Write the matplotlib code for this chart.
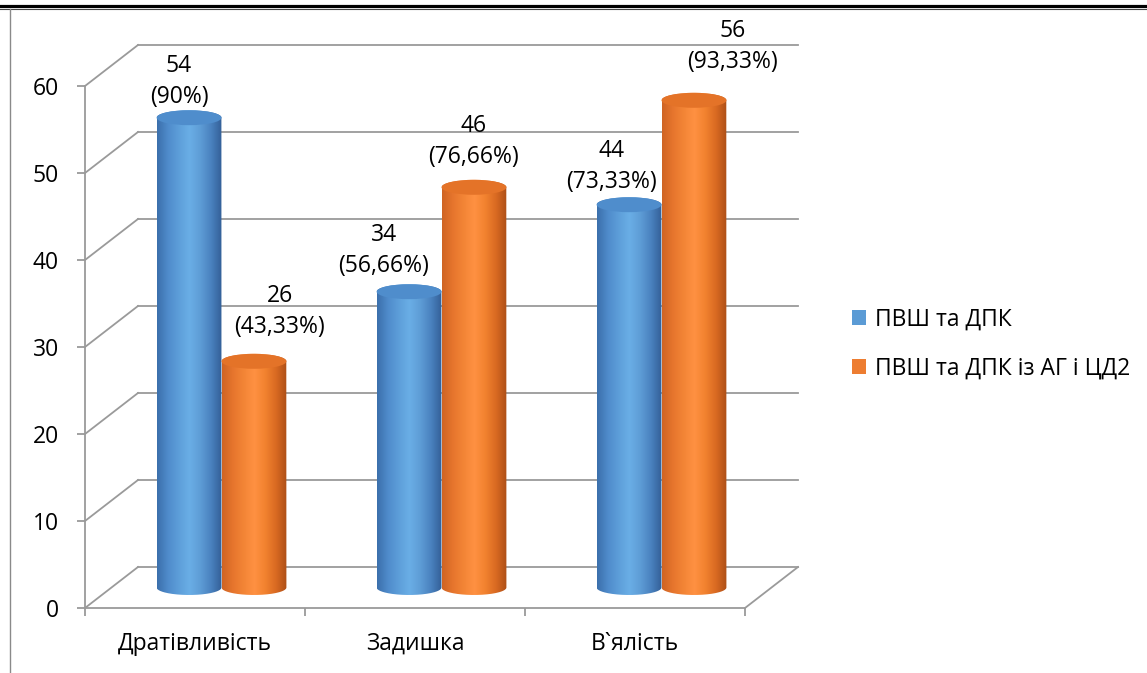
import matplotlib

matplotlib.use("Agg")
import matplotlib.pyplot as plt
import numpy as np
from matplotlib.colors import LinearSegmentedColormap
from matplotlib.lines import Line2D
from matplotlib.patches import Ellipse, Patch, PathPatch
from matplotlib.path import Path
from matplotlib.transforms import IdentityTransform, offset_copy

plt.rcParams["font.family"] = ["Open Sans", "DejaVu Sans"]

# --- data -------------------------------------------------------------------
categories = ["Дратівливість", "Задишка", "В`ялість"]
series_names = ["ПВШ та ДПК", "ПВШ та ДПК із АГ і ЦД2"]
values_pvsh = [54, 34, 44]
values_pvsh_ag = [26, 46, 56]
pct_pvsh = ["90%", "56,66%", "73,33%"]
pct_pvsh_ag = ["43,33%", "76,66%", "93,33%"]
y_ticks = [0, 10, 20, 30, 40, 50, 60]

# --- layout / style ---------------------------------------------------------
W, H = 1147, 673
DEPTH = (53, 41)        # px shift from front plane to back wall
BAR_W = 0.295           # cylinder width, category units
ELL_RY = 0.86           # half-height of cylinder ellipses, value units
FS = 16.5
GRID = "#9a9a9a"
# label block offsets from bar top (px): (dx, up), same order as values
lbl_off_pvsh = [(-10, 36), (-25, 41), (-18, 38)]
lbl_off_pvsh_ag = [(26, 50), (0, 46), (39, 54)]

blue_stops = ["#3b6fab", "#4f8bcb", "#5d9ed9", "#6aaee6", "#5e9dd6", "#4a82bf", "#335f97"]
orange_stops = ["#cf6424", "#e6752d", "#f38536", "#ff9142", "#f2822f", "#d96a22", "#ad4f17"]
blue_top = "#4f8dcc"
orange_top = "#e47328"

fig = plt.figure(figsize=(W / 100, H / 100), dpi=100)
ax = fig.add_axes([85 / W, (H - 608) / H, 660 / W, 522 / H])
ax.set_xlim(0, 3)
ax.set_ylim(0, 60)
ax.patch.set_visible(False)

back = offset_copy(ax.transData, x=DEPTH[0], y=DEPTH[1], units="dots")
mid = offset_copy(ax.transData, x=DEPTH[0] / 2, y=DEPTH[1] / 2, units="dots")


def disp_line(p0, p1):
    ax.add_line(Line2D([p0[0], p1[0]], [p0[1], p1[1]], transform=IdentityTransform(),
                       color=GRID, lw=1.3, clip_on=False))


# back wall gridlines + left wall diagonals
for v in y_ticks:
    ax.plot([0, 3], [v, v], transform=back, color=GRID, lw=1.3, clip_on=False, zorder=1)
    disp_line(ax.transData.transform((0, v)), back.transform((0, v)))
# floor right edge
disp_line(ax.transData.transform((3, 0)), back.transform((3, 0)))


def cylinder(cx, top, stops, top_color, z):
    r = BAR_W / 2
    t = np.linspace(0, np.pi, 80)
    bottom = np.column_stack([cx - r * np.cos(t), -ELL_RY * np.sin(t)])
    upper = np.column_stack([cx + r * np.cos(t), top + ELL_RY * np.sin(t)])
    verts = np.vstack([[[cx - r, top]], bottom, upper, [[cx - r, top]]])
    outline = PathPatch(Path(verts), transform=mid, facecolor="none", edgecolor="none")
    ax.add_patch(outline)
    cmap = LinearSegmentedColormap.from_list("cyl", stops)
    img = ax.imshow(np.linspace(0, 1, 256)[None, :], cmap=cmap, aspect="auto",
                    extent=(cx - r, cx + r, -ELL_RY, top + ELL_RY), transform=mid,
                    interpolation="bilinear", zorder=z)
    img.set_clip_path(outline)
    ax.add_patch(Ellipse((cx, top), 2 * r, 2 * ELL_RY, transform=mid,
                         facecolor=top_color, edgecolor="none", zorder=z + 0.1))


x = np.arange(len(categories))
series = [
    (values_pvsh, pct_pvsh, lbl_off_pvsh, blue_stops, blue_top, -1),
    (values_pvsh_ag, pct_pvsh_ag, lbl_off_pvsh_ag, orange_stops, orange_top, 1),
]
for vals, pcts, offs, stops, top_color, side in series:
    for i, (v, p, (dx, up)) in enumerate(zip(vals, pcts, offs)):
        cx = x[i] + 0.5 + side * BAR_W / 2
        cylinder(cx, v, stops, top_color, 3 + side * 0.5 + i)
        lbl_tr = offset_copy(mid, x=dx, y=up, units="dots")
        ax.text(cx, v, f"{v}\n({p})", transform=lbl_tr, ha="center", va="center",
                fontsize=FS, linespacing=1.42, clip_on=False, zorder=20)

ax.set_xlim(0, 3)
ax.set_ylim(0, 60)

# axes: front y axis and floor front edge
for s in ("top", "right"):
    ax.spines[s].set_visible(False)
for s in ("left", "bottom"):
    ax.spines[s].set_color(GRID)
    ax.spines[s].set_linewidth(1.3)
ax.set_yticks(y_ticks)
ax.tick_params(axis="y", length=5.8, width=1.3, color=GRID, pad=13, labelsize=FS)
ax.set_xticks([0, 1, 2, 3])
ax.set_xticklabels([])
ax.set_xticks(x + 0.5, minor=True)
ax.set_xticklabels(categories, minor=True)
ax.tick_params(axis="x", which="major", length=5.8, width=1.3, color=GRID)
ax.tick_params(axis="x", which="minor", length=0, pad=17, labelsize=FS)

handles = [Patch(facecolor="#5b9bd5"), Patch(facecolor="#ed7d31")]
fig.legend(handles, series_names, loc="center left", bbox_to_anchor=(852 / W, 1 - 344 / H),
           frameon=False, fontsize=FS, handlelength=0.6, handleheight=0.6,
           handletextpad=0.42, labelspacing=1.1, borderpad=0, borderaxespad=0)

# page frame lines around the chart
fig.add_artist(Line2D([0, 1], [1 - 5.5 / H] * 2, color="black", lw=2.3))
fig.add_artist(Line2D([0, 1], [1 - 8.5 / H] * 2, color="#444444", lw=0.8))
fig.add_artist(Line2D([10 / W] * 2, [0, 1 - 9 / H], color="#8a8a8a", lw=1.0))

fig.savefig("out.png", dpi=100)
